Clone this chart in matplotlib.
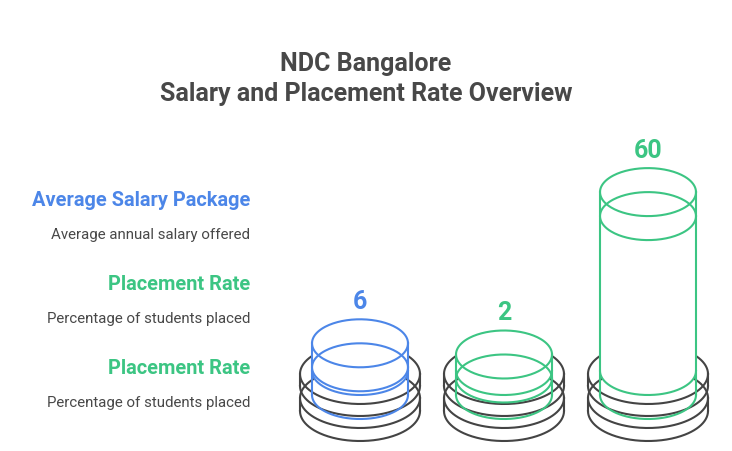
import numpy as np
import matplotlib
matplotlib.use("Agg")
import matplotlib.pyplot as plt

# datos del grafico
title_lines = ["NDC Bangalore", "Salary and Placement Rate Overview"]
labels = ["Average Salary Package", "Placement Rate", "Placement Rate"]
descriptions = ["Average annual salary offered", "Percentage of students placed", "Percentage of students placed"]
values = [6, 2, 60]
value_text = ["6", "2", "60"]
colors = ["#4C86E8", "#3CC583", "#3CC583"]

GRAY = "#444444"
TEXT = "#484848"
LW = 1.5
BASE = 360.1      # y pixel of value zero
PX_PER_UNIT = 2.8
centers = [360, 504, 648]
label_y = [200, 284, 368]
desc_y = [234.5, 318.5, 402.5]

plt.rcParams["font.family"] = ["Roboto", "DejaVu Sans"]

fig = plt.figure(figsize=(7.32, 4.51), dpi=100)
ax = fig.add_axes([0, 0, 1, 1])
ax.set_xlim(0, 732)
ax.set_ylim(451, 0)
ax.axis("off")


def arc(cx, cy, rx, ry, a0, a1):
    t = np.radians(np.linspace(a0, a1, 181))
    return cx + rx * np.cos(t), cy + ry * np.sin(t)


def gray_disc(cx, top, bottom):
    rx, ry = 60, 30
    x, y = arc(cx, top, rx, ry, 0, 360)
    ax.plot(x, y, color=GRAY, lw=LW, zorder=1)
    x, y = arc(cx, bottom, rx, ry, 0, 180)
    ax.plot(x, y, color=GRAY, lw=LW, zorder=1)
    ax.plot([cx - rx, cx - rx], [top, bottom], color=GRAY, lw=LW, zorder=1)
    ax.plot([cx + rx, cx + rx], [top, bottom], color=GRAY, lw=LW, zorder=1)


def cylinder(cx, value, color):
    rx, ry = 48, 24
    top = BASE - value * PX_PER_UNIT
    # cuerpo blanco que tapa los discos grises
    xt, yt = arc(cx, top, rx, ry, 180, 360)
    xb, yb = arc(cx, 371, rx, ry, 0, 180)
    ax.fill(np.r_[xt, xb], np.r_[yt, yb], color="white", lw=0, zorder=2)
    for c in (top, top + ry):
        x, y = arc(cx, c, rx, ry, 0, 360)
        ax.plot(x, y, color=color, lw=LW, zorder=3)
    for c in (371, 395):
        x, y = arc(cx, c, rx, ry, 0, 180)
        ax.plot(x, y, color=color, lw=LW, zorder=3)
    ax.plot([cx - rx, cx - rx], [top, 395], color=color, lw=LW, zorder=3)
    ax.plot([cx + rx, cx + rx], [top, 395], color=color, lw=LW, zorder=3)
    return top


for cx, v, txt, col in zip(centers, values, value_text, colors):
    gray_disc(cx, 374, 386)
    gray_disc(cx, 398, 411)
    top = cylinder(cx, v, col)
    ax.text(cx, top - 41, txt, color=col, fontsize=18, fontweight="bold", ha="center", va="center")

ax.text(366, 63.5, title_lines[0], color=TEXT, fontsize=18, fontweight="bold", ha="center", va="center")
ax.text(366, 93.5, title_lines[1], color=TEXT, fontsize=18, fontweight="bold", ha="center", va="center")

for lab, desc, ly, dy, col in zip(labels, descriptions, label_y, desc_y, colors):
    ax.text(250, ly, lab, color=col, fontsize=14.4, fontweight="bold", ha="right", va="center")
    ax.text(250, dy, desc, color=TEXT, fontsize=10.8, ha="right", va="center")

fig.savefig("out.png", dpi=100)
